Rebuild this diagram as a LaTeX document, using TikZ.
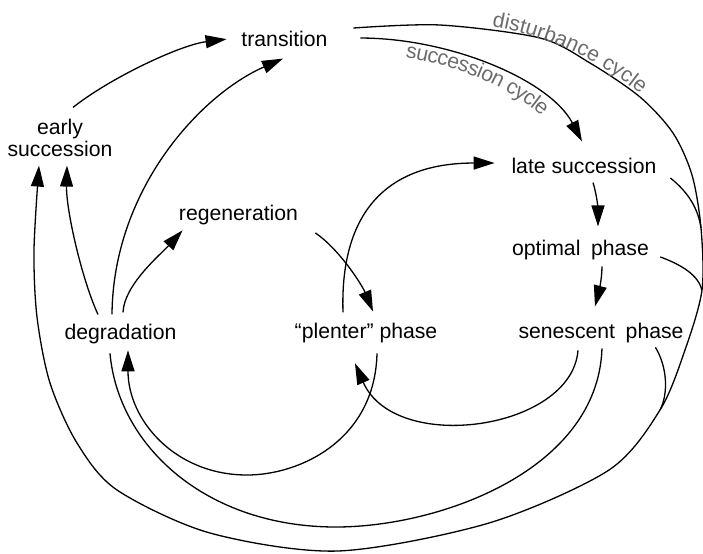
\documentclass[tikz,border=0pt]{standalone}
\usepackage{fontspec}
\setmainfont{Liberation Sans}
\usetikzlibrary{arrows.meta,decorations.text}
\definecolor{cyclegray}{gray}{0.42}
\newcommand{\stagefont}{\fontsize{10.6}{10.8}\selectfont}
\tikzset{
  stage/.style={font=\stagefont, inner sep=0pt},
  link/.style={line width=0.65pt},
  cyclelabel/.style={decorate, decoration={text along path, text align=center, text color=cyclegray, #1}},
}
\begin{document}
\begin{tikzpicture}[x=0.5pt, y=-0.5pt, >={Triangle[length=10.5pt,width=6.5pt]}]
  \useasboundingbox (0,0) rectangle (703,553);
  % stages
  \node[stage, anchor=base] (trans) at (284.5,46.7) {transition};
  \node[stage, align=center] (early) at (60,138) {early\\succession};
  \node[stage, anchor=base] (regen) at (238.5,220) {regeneration};
  \node[stage, anchor=base] (degr) at (120.5,339.5) {degradation};
  \node[stage, anchor=base] (plent) at (366,338) {``plenter'' phase};
  \node[stage, anchor=base] (late) at (584,173.3) {late succession};
  \node[stage, anchor=base] (optim) at (580.5,255) {optimal\enspace phase};
  \node[stage, anchor=base] (senes) at (601,338) {senescent\enspace phase};
  % ends and joins of the disturbance cycle
  \coordinate (dstart) at ([shift={(25.5,-11.1)}]trans.east);
  \coordinate (dend) at ([shift={(-21,8.6)}]early.south);
  \coordinate (j1) at (701,228);
  \coordinate (j2) at (702,290);
  \coordinate (j3) at (660,410);
  % disturbance cycle
  \draw[link, ->] plot[smooth, tension=0.5] coordinates {(dstart) (440,25) (540,38) (590,63) (640,97) (673,133) (692,175) (j1) (j2) (685,350) (j3) (609,470) (489,523) (338,551) (210,533) (117,490) (77,443) (50,383) (37,317) (34,250) (dend)};
  \draw[link] ([shift={(13.5,12.3)}]late.east) .. controls (688,192) and (698,208) .. (j1);
  \draw[link] ([shift={(11,7.4)}]optim.east) .. controls (682,265) and (698,275) .. (j2);
  \draw[link] ([shift={(-28.5,4.5)}]senes.south east) .. controls (668,368) and (668,395) .. (j3);
  \path[cyclelabel={text={|\stagefont|disturbance cycle}, raise=1.5pt}] (455,25) .. controls (555,32) and (625,78) .. (665,122);
  % succession cycle
  \draw[link, ->] ([shift={(32.5,-1.1)}]trans.east) .. controls (450,38) and (550,80) .. ([shift={(-2,-16.1)}]late.north);
  \path[cyclelabel={text={|\stagefont|succession cycle}, raise=-8pt}] ([shift={(32.5,-1.1)}]trans.east) .. controls (450,38) and (550,80) .. ([shift={(-2,-16.1)}]late.north);
  \draw[link, ->] ([shift={(9,8.7)}]late.south) .. controls (597,195) and (598,210) .. ([shift={(17.5,-12.8)}]optim.north);
  \draw[link, ->] ([shift={(21.5,6.5)}]optim.south) .. controls (602,280) and (598,295) .. ([shift={(-6,-15.8)}]senes.north);
  \draw[link, ->] ([shift={(-23,7.5)}]senes.south) .. controls (572,430) and (395,455) .. ([shift={(-11,20.5)}]plent.south);
  \draw[link] ([shift={(1,5.5)}]senes.south) .. controls (598,470) and (440,527) .. (336,527) .. controls (205,527) and (118,445) .. ([shift={(-10.5,9)}]degr.south);
  % from degradation
  \draw[link, ->] ([shift={(-22.5,-9.3)}]degr.north) .. controls (82,280) and (66,210) .. ([shift={(7,8.6)}]early.south);
  \draw[link, ->] ([shift={(-8.5,-9.3)}]degr.north) .. controls (113,190) and (200,95) .. ([shift={(-1.5,11.3)}]trans.south);
  \draw[link, ->] ([shift={(2.5,-11.3)}]degr.north) .. controls (124,285) and (160,255) .. ([shift={(4,5.5)}]regen.south west);
  \draw[link, ->] ([shift={(13,-11.6)}]early.north) .. controls (110,78) and (180,45) .. ([shift={(-14.5,0)}]trans.west);
  % regeneration and plenter
  \draw[link, ->] ([shift={(17,18.4)}]regen.east) .. controls (340,250) and (362,285) .. ([shift={(7,-10.8)}]plent.north);
  \draw[link, ->] ([shift={(-23,-9.8)}]plent.north) .. controls (340,220) and (380,163) .. ([shift={(-16.5,-2.7)}]late.west);
  \draw[link, ->] ([shift={(11,10.5)}]plent.south) .. controls (375,440) and (300,475) .. (247,475) .. controls (175,475) and (128,420) .. ([shift={(7.5,6)}]degr.south);
\end{tikzpicture}
\end{document}
